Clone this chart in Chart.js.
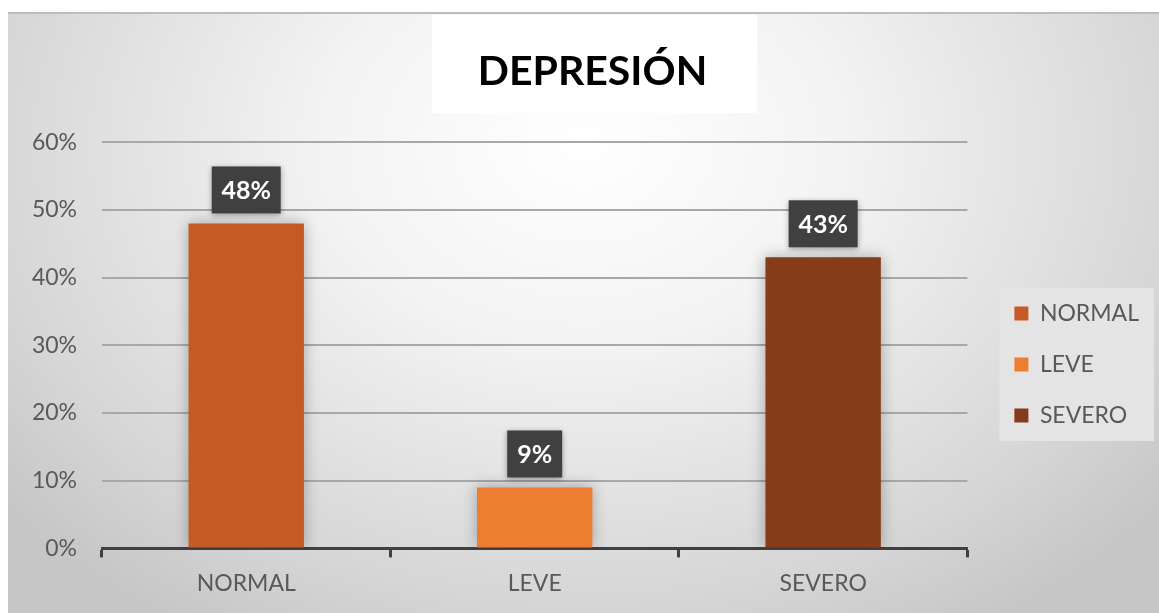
<!DOCTYPE html>
<html>
<head>
<meta charset="utf-8">
<script src="https://cdn.jsdelivr.net/npm/chart.js@4"></script>
<style>
  body { margin: 0; background: #fff; }
  #wrap {
    position: absolute; left: 8px; top: 12px; width: 1151px; height: 601px;
    background: radial-gradient(ellipse 65% 95% at 50% 22%, #ffffff 0%, #f3f3f3 35%, #d6d6d6 80%, #c6c6c6 100%);
    box-shadow: inset 0 2px 0 #bdbdbd;
  }
</style>
</head>
<body>
<div id="wrap"><canvas id="chart" width="1151" height="601"></canvas></div>
<script>
// Datos del gráfico
const categorias = ['NORMAL', 'LEVE', 'SEVERO'];
const valores = [48, 9, 43];            // porcentajes
const colores = ['#c55a24', '#ed7d31', '#843c1a'];
const ticksY = [0, 10, 20, 30, 40, 50, 60];

Chart.defaults.font.family = 'Lato';
Chart.defaults.color = '#595959';

// Caja blanca detrás del título (y título un poco a la derecha)
const fondoTitulo = {
  id: 'fondoTitulo',
  afterLayout(chart) {
    chart.titleBlock.left += 14;
  },
  beforeDraw(chart) {
    const ctx = chart.ctx;
    ctx.save();
    ctx.fillStyle = '#ffffff';
    ctx.fillRect(424, 3, 325, 98);
    ctx.restore();
  }
};

// Fondo de la leyenda
const fondoLeyenda = {
  id: 'fondoLeyenda',
  beforeDraw(chart) {
    const boxes = chart.legend.legendHitBoxes;
    if (!boxes || !boxes.length) return;
    let l = Infinity, t = Infinity, r = -Infinity, b = -Infinity;
    boxes.forEach(h => {
      l = Math.min(l, h.left); t = Math.min(t, h.top);
      r = Math.max(r, h.left + h.width); b = Math.max(b, h.top + h.height);
    });
    const ctx = chart.ctx;
    ctx.save();
    ctx.fillStyle = '#e4e4e4';
    ctx.fillRect(l - 15, t - 14, r - l + 30, b - t + 28);
    ctx.restore();
  }
};

// Sombra suave de las barras
const sombraBarras = {
  id: 'sombraBarras',
  beforeDatasetsDraw(chart) {
    const ctx = chart.ctx;
    ctx.save();
    ctx.shadowColor = 'rgba(0,0,0,0.3)';
    ctx.shadowBlur = 14;
  },
  afterDatasetsDraw(chart) {
    chart.ctx.restore();
  }
};

// Etiquetas de datos (cajas oscuras)
const etiquetas = {
  id: 'etiquetas',
  afterDatasetsDraw(chart) {
    const ctx = chart.ctx;
    const meta = chart.getDatasetMeta(0);
    meta.data.forEach((bar, i) => {
      const texto = valores[i] + '%';
      ctx.save();
      ctx.font = 'bold 25px Lato';
      const w = Math.round(ctx.measureText(texto).width) + 20, h = 47;
      const x = bar.x - w / 2, y = bar.y - 10 - h;
      ctx.shadowColor = 'rgba(0,0,0,0.35)';
      ctx.shadowBlur = 6;
      ctx.shadowOffsetY = 2;
      ctx.fillStyle = '#404040';
      ctx.fillRect(x, y, w, h);
      ctx.restore();
      ctx.save();
      ctx.fillStyle = '#ffffff';
      ctx.font = 'bold 25px Lato';
      ctx.textAlign = 'center';
      ctx.textBaseline = 'middle';
      ctx.fillText(texto, bar.x, y + h / 2 + 1);
      ctx.restore();
    });
  }
};

new Chart(document.getElementById('chart'), {
  type: 'bar',
  data: {
    labels: categorias,
    datasets: [{
      data: valores,
      backgroundColor: colores,
      categoryPercentage: 1,
      barPercentage: 0.4
    }]
  },
  options: {
    responsive: false,
    animation: false,
    layout: { padding: { left: 14, right: 10, bottom: 4 } },
    scales: {
      x: {
        offset: true,
        grid: {
          display: true, drawOnChartArea: false, drawTicks: true, offset: true,
          tickLength: 9, tickColor: '#404040', tickWidth: 3
        },
        border: { display: true, color: '#404040', width: 3 },
        ticks: { font: { size: 23 }, color: '#595959', padding: 12 }
      },
      y: {
        min: 0, max: 60,
        afterBuildTicks: s => { s.ticks = ticksY.map(v => ({ value: v })); },
        afterFit: s => { s.width = 80; },
        grid: {
          drawTicks: false, lineWidth: 2,
          color: c => c.tick && c.tick.value === 0 ? 'rgba(0,0,0,0)' : '#a8a8a8'
        },
        border: { display: false },
        ticks: { font: { size: 23 }, color: '#595959', padding: 25, callback: v => v + '%' }
      },
      // espacio entre el área del gráfico y la leyenda
      margen: {
        type: 'linear', position: 'right', display: true,
        grid: { display: false }, border: { display: false },
        ticks: { display: false },
        afterFit: s => { s.width = 19; }
      }
    },
    plugins: {
      title: {
        display: true, text: 'DEPRESIÓN', color: '#000000',
        font: { size: 41, weight: 'bold' },
        padding: { top: 35, bottom: 46 }
      },
      legend: {
        position: 'right',
        title: { display: true, text: ' ', font: { size: 10 }, padding: 48 },
        labels: {
          font: { size: 23 }, color: '#595959',
          boxWidth: 14, boxHeight: 14, padding: 28,
          generateLabels: chart => categorias.map((c, i) => ({
            text: c, fillStyle: colores[i], strokeStyle: colores[i], lineWidth: 0, index: i
          }))
        },
        onClick: () => {}
      },
      tooltip: { enabled: false }
    }
  },
  plugins: [fondoTitulo, fondoLeyenda, sombraBarras, etiquetas]
});
</script>
</body>
</html>
